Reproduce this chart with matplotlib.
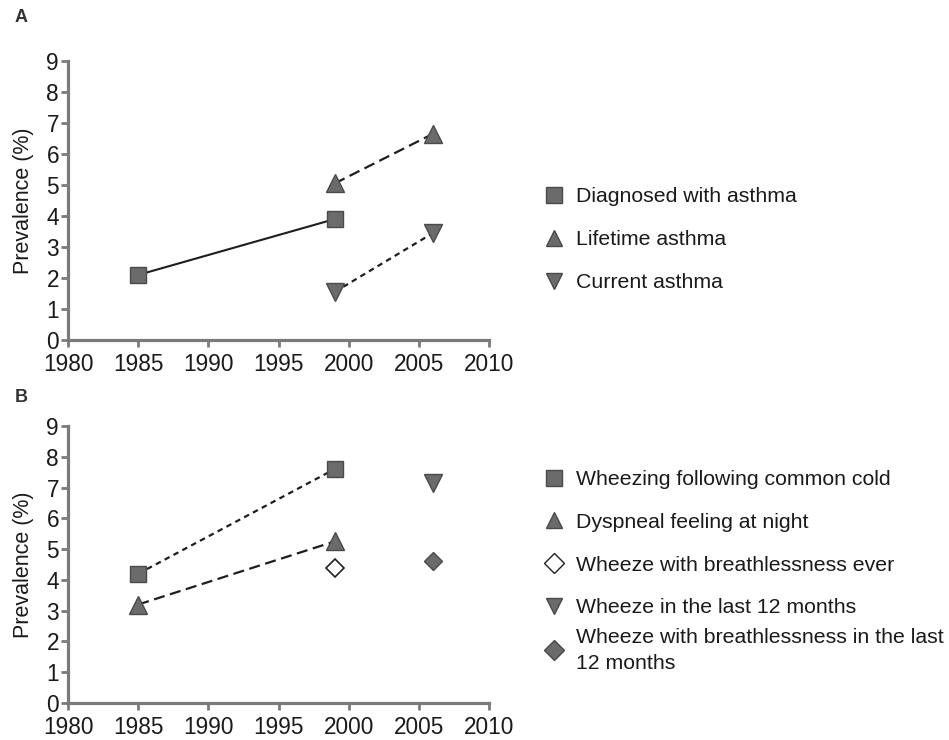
import matplotlib
matplotlib.use("Agg")
import matplotlib.pyplot as plt
from matplotlib.lines import Line2D

plt.rcParams['font.family'] = ['Liberation Sans', 'DejaVu Sans']

# panel A data
diag_years = [1985, 1999]
diag_vals = [2.1, 3.9]
life_years = [1999, 2006]
life_vals = [5.05, 6.65]
curr_years = [1999, 2006]
curr_vals = [1.55, 3.45]

# panel B data
cold_years = [1985, 1999]
cold_vals = [4.2, 7.6]
dysp_years = [1985, 1999]
dysp_vals = [3.2, 5.25]
ever_years = [1999]
ever_vals = [4.4]
w12_years = [2006]
w12_vals = [7.15]
wb12_years = [2006]
wb12_vals = [4.6]

labels_a = ["Diagnosed with asthma", "Lifetime asthma", "Current asthma"]
labels_b = ["Wheezing following common cold", "Dyspneal feeling at night",
            "Wheeze with breathlessness ever", "Wheeze in the last 12 months",
            "Wheeze with breathlessness in the last\n12 months"]

face = '#6b6b6b'
edge = '#4a4a4a'
line_c = '#1e1e1e'
spine_c = '#7a7a7a'

fig = plt.figure(figsize=(9.49, 7.40), dpi=100)
ax1 = fig.add_axes([0.0717, 0.5405, 0.4436, 0.3771])
ax2 = fig.add_axes([0.0717, 0.05, 0.4436, 0.3743])


def style(ax):
    ax.set_xlim(1980, 2010)
    ax.set_ylim(0, 9)
    ax.set_xticks(range(1980, 2011, 5))
    ax.set_yticks(range(0, 10))
    for s in ['top', 'right']:
        ax.spines[s].set_visible(False)
    for s in ['left', 'bottom']:
        ax.spines[s].set_color(spine_c)
        ax.spines[s].set_linewidth(2.3)
    ax.tick_params(colors=spine_c, width=2, length=5, labelsize=16.3,
                   labelcolor='#1a1a1a', pad=1.5)
    ax.tick_params(axis='x', pad=4)
    ax.set_ylabel("Prevalence (%)", fontsize=15.5, color='#1a1a1a', labelpad=9)
    ax.patch.set_alpha(0)


mk = dict(markerfacecolor=face, markeredgecolor=edge, markeredgewidth=1, clip_on=False)

ax1.plot(diag_years, diag_vals, color=line_c, lw=1.5, ls='-', marker='s', ms=11, **mk)
ax1.plot(life_years, life_vals, color=line_c, lw=1.6, ls=(0, (5, 2.5)), marker='^', ms=13, **mk)
ax1.plot(curr_years, curr_vals, color=line_c, lw=1.6, ls=(0, (2.5, 2)), marker='v', ms=13, **mk)
style(ax1)

ax2.plot(cold_years, cold_vals, color=line_c, lw=1.6, ls=(0, (2.5, 2)), marker='s', ms=11, **mk)
ax2.plot(dysp_years, dysp_vals, color=line_c, lw=1.6, ls=(0, (5, 2.5)), marker='^', ms=13, **mk)
ax2.plot(ever_years, ever_vals, ls='none', marker='D', ms=9, markerfacecolor='white',
         markeredgecolor='#222222', markeredgewidth=1.2, clip_on=False)
ax2.plot(w12_years, w12_vals, ls='none', marker='v', ms=13, **mk)
ax2.plot(wb12_years, wb12_vals, ls='none', marker='D', ms=9, **mk)
style(ax2)


def handle(m, ms, fc=face, ec=edge):
    return Line2D([], [], ls='none', marker=m, markersize=ms, markerfacecolor=fc,
                  markeredgecolor=ec, markeredgewidth=1)


handles_a = [handle('s', 12), handle('^', 11), handle('v', 11)]
handles_b = [handle('s', 12), handle('^', 11), handle('D', 10, 'white', '#222222'),
             handle('v', 11), handle('D', 10)]

leg_kw = dict(frameon=False, fontsize=15.3, handlelength=1.0, handletextpad=0.55,
              borderpad=0, borderaxespad=0, labelcolor='#1a1a1a', loc='upper left')
fig.legend(handles_a, labels_a, bbox_to_anchor=(543 / 949, 1 - 187 / 740),
           labelspacing=1.14, **leg_kw)
fig.legend(handles_b[:4], labels_b[:4], bbox_to_anchor=(543 / 949, 1 - 470 / 740),
           labelspacing=1.12, **leg_kw)
leg5 = fig.legend(handles_b[4:], labels_b[4:], bbox_to_anchor=(543 / 949, 1 - 628 / 740),
                  labelspacing=1.12, **leg_kw)
for t in leg5.get_texts():
    t.set_linespacing(1.45)

fig.text(15 / 949, 1 - 18 / 740, "A", fontsize=13, fontweight='bold', va='center', color='#333333')
fig.text(15 / 949, 1 - 398 / 740, "B", fontsize=13, fontweight='bold', va='center', color='#333333')

fig.savefig("out.png", dpi=100)
